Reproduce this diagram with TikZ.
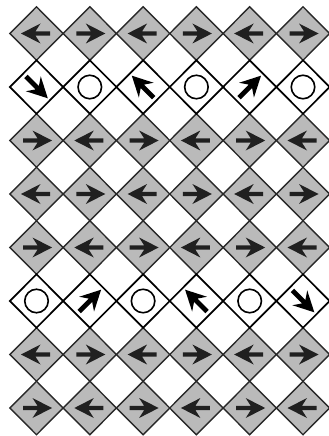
\documentclass[tikz,border=0pt]{standalone}
\usetikzlibrary{shapes.geometric}
\definecolor{tilegray}{RGB}{186,186,186}
\definecolor{edgegray}{RGB}{40,40,40}
\definecolor{arrowcol}{RGB}{32,32,32}
\tikzset{
  graytile/.style={diamond, draw=edgegray, fill=tilegray, line width=1.4pt,
    minimum width=53.3pt, minimum height=53.5pt, inner sep=0pt, outer sep=0pt},
  whitetile/.style={diamond, draw=black, fill=white, line width=1.7pt,
    minimum width=53.3pt, minimum height=53.5pt, inner sep=0pt, outer sep=0pt},
  ring/.style={circle, draw=black, line width=1.6pt, minimum size=23.5pt, inner sep=0pt},
  harrow/.pic={\fill[arrowcol] (-13.5,2.2) -- (1,2.2) -- (-4,10) -- (15.5,0) -- (-4,-10) -- (1,-2.2) -- (-13.5,-2.2) -- cycle;},
  darrow/.pic={\fill[black] (-15,2.4) -- (1,2.4) -- (-4.5,10.5) -- (16,0) -- (-4.5,-10.5) -- (1,-2.4) -- (-15,-2.4) -- cycle;}
}
\begin{document}
\begin{tikzpicture}[x=1pt,y=1pt]
\useasboundingbox (0,0) rectangle (329,-436);
% gray rows
\foreach \j/\first in {0/180,2/0,3/180,4/0,6/180,7/0} {
  \foreach \i in {0,...,5} {
    \pgfmathsetmacro\cx{36.5+53.3*\i}
    \pgfmathsetmacro\cy{-(33.5+53.5*\j)}
    \pgfmathsetmacro\ang{mod(\i,2)==0 ? \first : 180-\first}
    \node[graytile] (g-\i-\j) at (\cx,\cy) {};
    \pic[rotate=\ang] at (g-\i-\j.center) {harrow};
  }
}
% white rows
\foreach \j in {1,5} {
  \foreach \i in {0,...,5} {
    \pgfmathsetmacro\cx{36.5+53.3*\i}
    \pgfmathsetmacro\cy{-(33.5+53.5*\j)}
    \node[whitetile] (w-\i-\j) at (\cx,\cy) {};
  }
}
% circles
\foreach \i/\j in {1/1,3/1,5/1,0/5,2/5,4/5} {
  \node[ring] (c-\i-\j) at (w-\i-\j.center) {};
}
% diagonal arrows
\foreach \i/\j/\ang in {0/1/-45,2/1/135,4/1/45,1/5/45,3/5/135,5/5/-45} {
  \pic[rotate=\ang] at (w-\i-\j.center) {darrow};
}
\end{tikzpicture}
\end{document}
